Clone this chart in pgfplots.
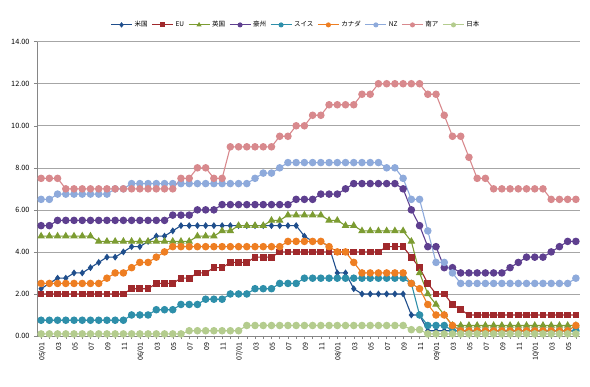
\documentclass[border=0pt]{standalone}
\usepackage{fontspec}
\setmainfont{Noto Sans CJK JP}
\usepackage{pgfplots}
\usepackage{pgfplotstable}
\pgfplotsset{compat=1.18}
\definecolor{cUS}{HTML}{1F4E8C}
\definecolor{cEU}{HTML}{A0292C}
\definecolor{cUK}{HTML}{7C9C32}
\definecolor{cAU}{HTML}{5E3F8F}
\definecolor{cCH}{HTML}{2E8FAA}
\definecolor{cCA}{HTML}{EE7E22}
\definecolor{cNZ}{HTML}{8EAADB}
\definecolor{cSA}{HTML}{D8898D}
\definecolor{cJP}{HTML}{B4CC8E}
\definecolor{gridc}{HTML}{A6A6A6}
\definecolor{axc}{HTML}{868686}
\pgfplotstableread{
i us eu uk au ch ca nz sa jp
0 2.25 2.00 4.75 5.25 0.75 2.50 6.50 7.50 0.10
1 2.50 2.00 4.75 5.25 0.75 2.50 6.50 7.50 0.10
2 2.75 2.00 4.75 5.50 0.75 2.50 6.75 7.50 0.10
3 2.75 2.00 4.75 5.50 0.75 2.50 6.75 7.00 0.10
4 3.00 2.00 4.75 5.50 0.75 2.50 6.75 7.00 0.10
5 3.00 2.00 4.75 5.50 0.75 2.50 6.75 7.00 0.10
6 3.25 2.00 4.75 5.50 0.75 2.50 6.75 7.00 0.10
7 3.50 2.00 4.50 5.50 0.75 2.50 6.75 7.00 0.10
8 3.75 2.00 4.50 5.50 0.75 2.75 6.75 7.00 0.10
9 3.75 2.00 4.50 5.50 0.75 3.00 7.00 7.00 0.10
10 4.00 2.00 4.50 5.50 0.75 3.00 7.00 7.00 0.10
11 4.25 2.25 4.50 5.50 1.00 3.25 7.25 7.00 0.10
12 4.25 2.25 4.50 5.50 1.00 3.50 7.25 7.00 0.10
13 4.50 2.25 4.50 5.50 1.00 3.50 7.25 7.00 0.10
14 4.75 2.50 4.50 5.50 1.25 3.75 7.25 7.00 0.10
15 4.75 2.50 4.50 5.50 1.25 4.00 7.25 7.00 0.10
16 5.00 2.50 4.50 5.75 1.25 4.25 7.25 7.00 0.10
17 5.25 2.75 4.50 5.75 1.50 4.25 7.25 7.50 0.10
18 5.25 2.75 4.50 5.75 1.50 4.25 7.25 7.50 0.25
19 5.25 3.00 4.75 6.00 1.50 4.25 7.25 8.00 0.25
20 5.25 3.00 4.75 6.00 1.75 4.25 7.25 8.00 0.25
21 5.25 3.25 4.75 6.00 1.75 4.25 7.25 7.50 0.25
22 5.25 3.25 5.00 6.25 1.75 4.25 7.25 7.50 0.25
23 5.25 3.50 5.00 6.25 2.00 4.25 7.25 9.00 0.25
24 5.25 3.50 5.25 6.25 2.00 4.25 7.25 9.00 0.25
25 5.25 3.50 5.25 6.25 2.00 4.25 7.25 9.00 0.50
26 5.25 3.75 5.25 6.25 2.25 4.25 7.50 9.00 0.50
27 5.25 3.75 5.25 6.25 2.25 4.25 7.75 9.00 0.50
28 5.25 3.75 5.50 6.25 2.25 4.25 7.75 9.00 0.50
29 5.25 4.00 5.50 6.25 2.50 4.25 8.00 9.50 0.50
30 5.25 4.00 5.75 6.25 2.50 4.50 8.25 9.50 0.50
31 5.25 4.00 5.75 6.50 2.50 4.50 8.25 10.00 0.50
32 4.75 4.00 5.75 6.50 2.75 4.50 8.25 10.00 0.50
33 4.50 4.00 5.75 6.50 2.75 4.50 8.25 10.50 0.50
34 4.50 4.00 5.75 6.75 2.75 4.50 8.25 10.50 0.50
35 4.25 4.00 5.50 6.75 2.75 4.25 8.25 11.00 0.50
36 3.00 4.00 5.50 6.75 2.75 4.00 8.25 11.00 0.50
37 3.00 4.00 5.25 7.00 2.75 4.00 8.25 11.00 0.50
38 2.25 4.00 5.25 7.25 2.75 3.50 8.25 11.00 0.50
39 2.00 4.00 5.00 7.25 2.75 3.00 8.25 11.50 0.50
40 2.00 4.00 5.00 7.25 2.75 3.00 8.25 11.50 0.50
41 2.00 4.00 5.00 7.25 2.75 3.00 8.25 12.00 0.50
42 2.00 4.25 5.00 7.25 2.75 3.00 8.00 12.00 0.50
43 2.00 4.25 5.00 7.25 2.75 3.00 8.00 12.00 0.50
44 2.00 4.25 5.00 7.00 2.75 3.00 7.50 12.00 0.50
45 1.00 3.75 4.50 6.00 2.50 2.50 6.50 12.00 0.30
46 1.00 3.25 3.00 5.25 1.00 2.25 6.50 12.00 0.30
47 0.25 2.50 2.00 4.25 0.50 1.50 5.00 11.50 0.10
48 0.25 2.00 1.50 4.25 0.50 1.00 3.50 11.50 0.10
49 0.25 2.00 1.00 3.25 0.50 1.00 3.50 10.50 0.10
50 0.25 1.50 0.50 3.25 0.25 0.50 3.00 9.50 0.10
51 0.25 1.25 0.50 3.00 0.25 0.25 2.50 9.50 0.10
52 0.25 1.00 0.50 3.00 0.25 0.25 2.50 8.50 0.10
53 0.25 1.00 0.50 3.00 0.25 0.25 2.50 7.50 0.10
54 0.25 1.00 0.50 3.00 0.25 0.25 2.50 7.50 0.10
55 0.25 1.00 0.50 3.00 0.25 0.25 2.50 7.00 0.10
56 0.25 1.00 0.50 3.00 0.25 0.25 2.50 7.00 0.10
57 0.25 1.00 0.50 3.25 0.25 0.25 2.50 7.00 0.10
58 0.25 1.00 0.50 3.50 0.25 0.25 2.50 7.00 0.10
59 0.25 1.00 0.50 3.75 0.25 0.25 2.50 7.00 0.10
60 0.25 1.00 0.50 3.75 0.25 0.25 2.50 7.00 0.10
61 0.25 1.00 0.50 3.75 0.25 0.25 2.50 7.00 0.10
62 0.25 1.00 0.50 4.00 0.25 0.25 2.50 6.50 0.10
63 0.25 1.00 0.50 4.25 0.25 0.25 2.50 6.50 0.10
64 0.25 1.00 0.50 4.50 0.25 0.25 2.50 6.50 0.10
65 0.25 1.00 0.50 4.50 0.25 0.50 2.75 6.50 0.10
}\data
\begin{document}
\begin{tikzpicture}
\begin{axis}[
  name=ax, at={(0,0)}, anchor=south west,
  scale only axis, width=543pt, height=294.3pt,
  xmin=-0.5, xmax=65.5, ymin=0, ymax=14,
  axis x line*=bottom, axis y line*=left,
  axis line style={draw=axc, line width=0.6pt, -},
  ytick={0,2,...,14},
  xtick={0,2,...,64},
  minor xtick={1,3,...,65},
  xticklabels={05/01,03,05,07,09,11,06/01,03,05,07,09,11,07/01,03,05,07,09,11,08/01,03,05,07,09,11,09/01,03,05,07,09,11,10/01,03,05},
  /pgf/number format/assume math mode=true,
  yticklabel style={/pgf/number format/fixed,/pgf/number format/fixed zerofill,/pgf/number format/precision=2,font=\fontsize{7.3}{8}\selectfont, xshift=-1pt},
  xticklabel style={rotate=90,anchor=east,font=\fontsize{7}{8}\selectfont, yshift=-1pt},
  tick align=outside, major tick length=3pt, minor tick length=3pt,
  tick style={draw=axc, line width=0.5pt},
  ymajorgrids, grid style={draw=gridc, line width=0.6pt},
  every axis plot/.append style={line width=1.1pt},
  legend columns=9,
  legend style={at={(0.477,1.057)}, anchor=center, draw=none, fill=none,
    font=\fontsize{6.5}{7}\selectfont,
    /tikz/every even column/.append style={column sep=2pt}},
  legend image code/.code={\draw[mark repeat=2,mark phase=2] plot coordinates {(0pt,0pt) (10.5pt,0pt) (21pt,0pt)};},
  legend image post style={mark size=2pt, line width=1pt},
]
\addplot[color=cUS, mark=diamond*, mark size=2.6pt, mark options={solid,fill=cUS}] table[x=i,y=us] {\data};
\addlegendentry{米国}
\addplot[color=cEU, mark=square*, mark size=2.8pt, mark options={solid,fill=cEU}] table[x=i,y=eu] {\data};
\addlegendentry{EU}
\addplot[color=cUK, mark=triangle*, mark size=3.3pt, mark options={solid,fill=cUK}] table[x=i,y=uk] {\data};
\addlegendentry{英国}
\addplot[color=cAU, mark=*, mark size=3.2pt, mark options={solid,fill=cAU}] table[x=i,y=au] {\data};
\addlegendentry{豪州}
\addplot[color=cCH, mark=*, mark size=3.2pt, mark options={solid,fill=cCH}] table[x=i,y=ch] {\data};
\addlegendentry{スイス}
\addplot[color=cCA, mark=*, mark size=3.2pt, mark options={solid,fill=cCA}] table[x=i,y=ca] {\data};
\addlegendentry{カナダ}
\addplot[color=cNZ, mark=*, mark size=3.2pt, mark options={solid,fill=cNZ}] table[x=i,y=nz] {\data};
\addlegendentry{NZ}
\addplot[color=cSA, mark=*, mark size=3.2pt, mark options={solid,fill=cSA}] table[x=i,y=sa] {\data};
\addlegendentry{南ア}
\addplot[color=cJP, mark=*, mark size=3.2pt, mark options={solid,fill=cJP}] table[x=i,y=jp] {\data};
\addlegendentry{日本}
\end{axis}
\path[use as bounding box] ([shift={(-37pt,-51pt)}]ax.south west) rectangle ([shift={(10pt,41.7pt)}]ax.north east);
\end{tikzpicture}
\end{document}
